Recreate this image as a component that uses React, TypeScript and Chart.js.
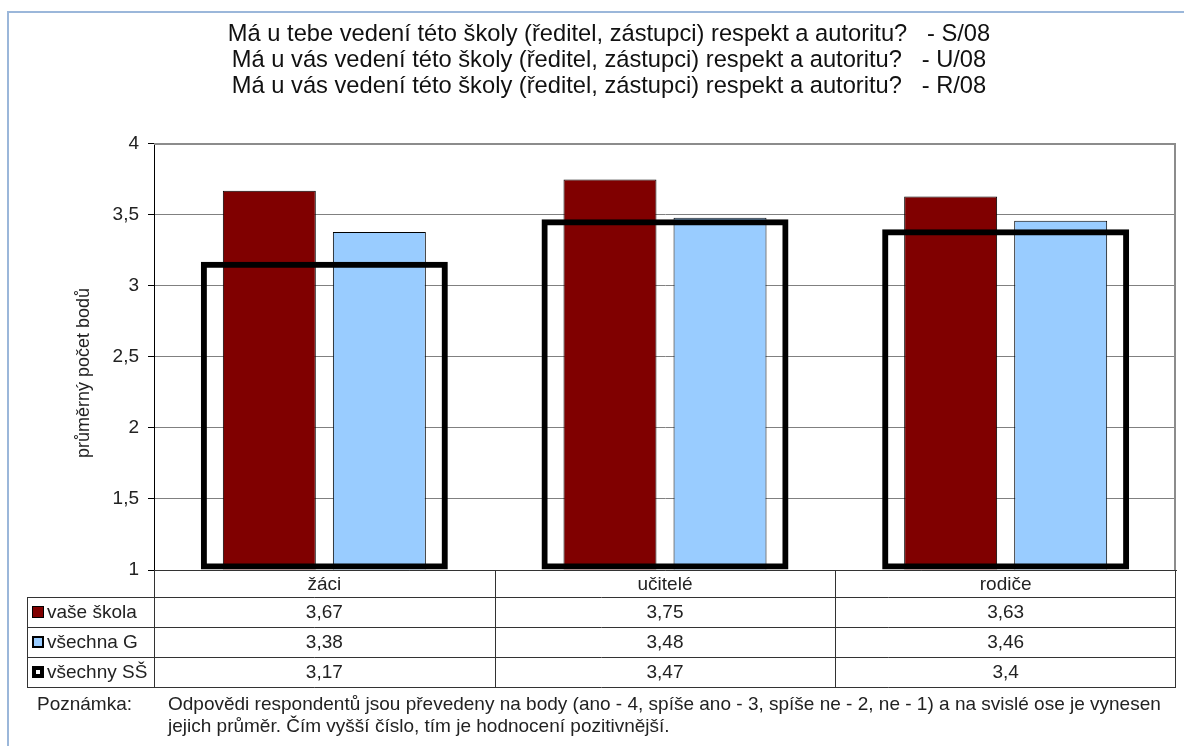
import { useEffect, useRef } from 'react';
import { Chart, registerables } from 'chart.js';

Chart.register(...registerables);

const categories = ['žáci', 'učitelé', 'rodiče'];
const seriesNames = ['vaše škola', 'všechna G', 'všechny SŠ'];
const vaseSkola = [3.67, 3.75, 3.63];
const vsechnaG = [3.38, 3.48, 3.46];
const vsechnySS = [3.17, 3.47, 3.4];
const yTicks = [1, 1.5, 2, 2.5, 3, 3.5, 4];
const titleLines = [
  'Má u tebe vedení této školy (ředitel, zástupci) respekt a autoritu?   - S/08',
  'Má u vás vedení této školy (ředitel, zástupci) respekt a autoritu?   - U/08',
  'Má u vás vedení této školy (ředitel, zástupci) respekt a autoritu?   - R/08',
];
const yTitle = 'průměrný počet bodů';
const noteLabel = 'Poznámka:';
const noteLines = [
  'Odpovědi respondentů jsou převedeny na body (ano - 4, spíše ano - 3, spíše ne - 2, ne - 1) a na svislé ose je vynesen',
  'jejich průměr. Čím vyšší číslo, tím je hodnocení pozitivnější.',
];

const FONT = '"Liberation Sans", Arial, sans-serif';
const RED = '#800000';
const BLUE = '#99CCFF';
const fmt = (v: number) => String(v).replace('.', ',');

const decorPlugin = {
  id: 'decor',
  afterDraw(chart: any) {
    const { ctx, chartArea: a } = chart;
    const xs = chart.scales.x;
    const seriesValues = [vaseSkola, vsechnaG, vsechnySS];
    ctx.save();

    // outer frame
    ctx.strokeStyle = '#9bb7da';
    ctx.lineWidth = 2;
    ctx.beginPath();
    ctx.moveTo(8, 746);
    ctx.lineTo(8, 12);
    ctx.lineTo(1184, 12);
    ctx.stroke();

    // plot border (top, right)
    ctx.strokeStyle = '#8c8c8c';
    ctx.lineWidth = 2;
    ctx.beginPath();
    ctx.moveTo(a.left, a.top);
    ctx.lineTo(a.right - 1, a.top);
    ctx.lineTo(a.right - 1, a.bottom);
    ctx.stroke();

    // y axis title
    ctx.save();
    ctx.translate(84, 373);
    ctx.rotate(-Math.PI / 2);
    ctx.font = `18px ${FONT}`;
    ctx.fillStyle = '#222';
    ctx.textAlign = 'center';
    ctx.textBaseline = 'middle';
    ctx.fillText(yTitle, 0, 0);
    ctx.restore();

    // data table
    const n = categories.length;
    const edges: number[] = [a.left];
    for (let i = 0; i < n - 1; i++) {
      edges.push((xs.getPixelForValue(i) + xs.getPixelForValue(i + 1)) / 2);
    }
    edges.push(a.right);
    const top = a.bottom;
    const catH = 27;
    const rowH = 30;
    const legendLeft = 27;
    const rows = [top + catH, top + catH + rowH, top + catH + 2 * rowH, top + catH + 3 * rowH];
    const r = (v: number) => Math.round(v) + 0.5;

    ctx.strokeStyle = '#333';
    ctx.lineWidth = 1;
    ctx.beginPath();
    rows.forEach((y) => {
      ctx.moveTo(legendLeft, r(y));
      ctx.lineTo(a.right, r(y));
    });
    edges.forEach((x, i) => {
      const xx = i === edges.length - 1 ? r(x) - 1 : r(x);
      ctx.moveTo(xx, top);
      ctx.lineTo(xx, rows[rows.length - 1]);
    });
    ctx.moveTo(r(legendLeft), rows[0]);
    ctx.lineTo(r(legendLeft), rows[rows.length - 1]);
    ctx.stroke();

    ctx.font = `19px ${FONT}`;
    ctx.fillStyle = '#222';
    ctx.textBaseline = 'middle';
    ctx.textAlign = 'center';
    categories.forEach((c, i) => {
      const cx = (edges[i] + edges[i + 1]) / 2;
      ctx.fillText(c, cx, top + catH / 2 + 1);
      seriesValues.forEach((vals, s) => {
        ctx.fillText(fmt(vals[i]), cx, rows[s] + rowH / 2 + 1);
      });
    });

    // legend keys
    ctx.textAlign = 'left';
    seriesNames.forEach((name, s) => {
      const cy = rows[s] + rowH / 2;
      const bx = 32;
      const by = Math.round(cy - 6);
      ctx.fillStyle = '#000';
      ctx.fillRect(bx, by, 12, 12);
      if (s === 0) {
        ctx.fillStyle = RED;
        ctx.fillRect(bx + 1, by + 1, 10, 10);
      } else if (s === 1) {
        ctx.fillStyle = BLUE;
        ctx.fillRect(bx + 2, by + 2, 8, 8);
      } else {
        ctx.fillStyle = '#fff';
        ctx.fillRect(bx + 4, by + 4, 4, 4);
      }
      ctx.fillStyle = '#222';
      ctx.fillText(name, 47, cy + 1);
    });

    // note
    ctx.fillText(noteLabel, 37, 705);
    noteLines.forEach((line, i) => ctx.fillText(line, 168, 705 + i * 22));

    ctx.restore();
  },
};

export default function App() {
  const ref = useRef<HTMLCanvasElement>(null);

  useEffect(() => {
    document.body.style.margin = '0';
    const canvas = ref.current;
    if (!canvas) return;
    const chart = new Chart(canvas, {
      type: 'bar',
      data: {
        labels: categories,
        datasets: [
          {
            label: seriesNames[0],
            data: vaseSkola,
            base: yTicks[0],
            backgroundColor: RED,
            borderColor: '#000',
            borderWidth: 1,
            categoryPercentage: 0.646,
            barPercentage: 0.845,
            order: 1,
          },
          {
            label: seriesNames[1],
            data: vsechnaG,
            base: yTicks[0],
            backgroundColor: BLUE,
            borderColor: '#000',
            borderWidth: 1,
            categoryPercentage: 0.646,
            barPercentage: 0.845,
            order: 1,
          },
          {
            label: seriesNames[2],
            data: vsechnySS,
            base: yTicks[0],
            backgroundColor: 'rgba(255,255,255,0)',
            borderColor: '#000',
            borderWidth: 6,
            borderSkipped: false,
            grouped: false,
            categoryPercentage: 1,
            barPercentage: 0.725,
            order: 0,
          },
        ],
      },
      options: {
        responsive: false,
        animation: false,
        events: [],
        layout: { padding: { left: 42, right: 8, top: 0, bottom: 176 } },
        plugins: {
          legend: { display: false },
          tooltip: { enabled: false },
          title: {
            display: true,
            text: titleLines,
            color: '#111',
            font: { family: FONT, size: 23.7, weight: 'normal', lineHeight: 1.097 },
            padding: { top: 21, bottom: 45 },
          },
        },
        scales: {
          x: {
            type: 'category',
            offset: true,
            grid: { display: false },
            ticks: { display: false },
            border: { display: true, color: '#333', width: 1 },
            afterFit: (s: any) => {
              s.height = 0;
            },
          },
          y: {
            min: 1,
            max: 4,
            afterBuildTicks: (s: any) => {
              s.ticks = yTicks.map((v) => ({ value: v }));
            },
            afterFit: (s: any) => {
              s.width = 112;
            },
            ticks: {
              callback: (v: any) => fmt(Number(v)),
              color: '#222',
              font: { family: FONT, size: 19 },
              padding: 9,
            },
            grid: { color: '#808080', lineWidth: 1, tickLength: 6, tickColor: '#000' },
            border: { color: '#000', width: 1 },
          },
        },
      },
      plugins: [decorPlugin],
    });
    return () => chart.destroy();
  }, []);

  return (
    <div style={{ width: 1184, height: 746, position: 'relative', background: '#fff' }}>
      <canvas ref={ref} width={1184} height={746} style={{ display: 'block' }} />
    </div>
  );
}
